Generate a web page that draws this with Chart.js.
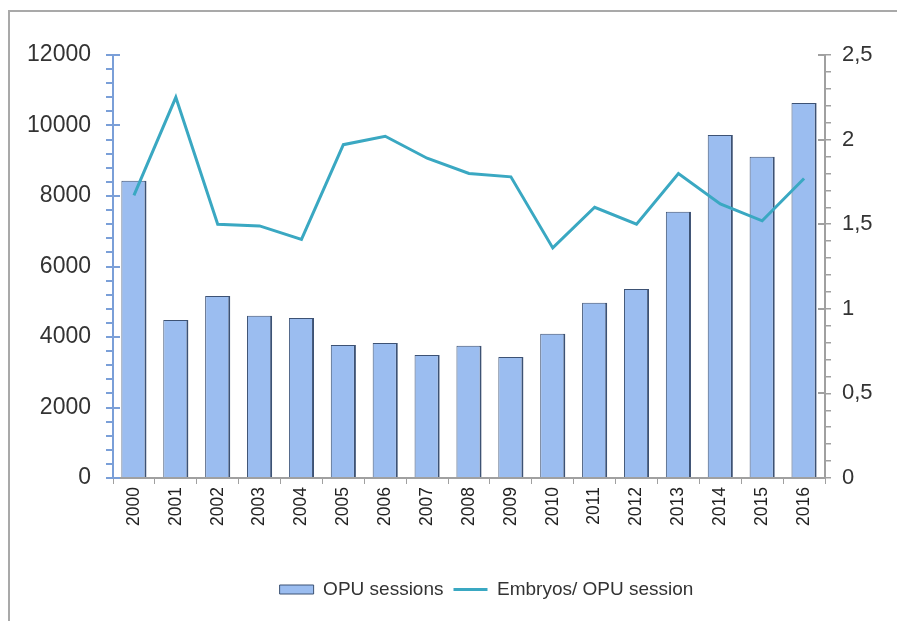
<!DOCTYPE html>
<html>
<head>
<meta charset="utf-8">
<script src="https://cdn.jsdelivr.net/npm/chart.js@4/dist/chart.umd.min.js"></script>
<style>
	html, body { margin:0; padding:0; background:#fff; }
	#cadre { position:absolute; left:8px; top:10px; width:889px; height:611px; border-top:2px solid #a9a9a9; border-left:2px solid #a9a9a9; box-sizing:border-box; }
	#zone { position:absolute; left:0; top:0; width:897px; height:621px; }
</style>
</head>
<body>
<div id="cadre"></div>
<div id="zone"><canvas id="chart-area" width="897" height="621"></canvas></div>
<script>
var annees = ["2000","2001","2002","2003","2004","2005","2006","2007","2008","2009","2010","2011","2012","2013","2014","2015","2016"];
var sessionsOPU = [8430, 4480, 5160, 4600, 4540, 3770, 3830, 3490, 3750, 3430, 4090, 4970, 5360, 7550, 9730, 9110, 10640];
var embryonsParSession = [1.67, 2.25, 1.50, 1.49, 1.41, 1.97, 2.02, 1.89, 1.80, 1.78, 1.36, 1.60, 1.50, 1.80, 1.62, 1.52, 1.77];
var ticksGauche = [0, 2000, 4000, 6000, 8000, 10000, 12000];
var ticksDroite = ["0", "0,5", "1", "1,5", "2", "2,5"];

var police = "'Liberation Sans', Arial, sans-serif";

// grandes graduations qui traversent l'axe (cote interieur)
// + legende decalee vers la droite comme sur l'original
var graduations = {
	id: 'graduations',
	beforeDraw: function(chart){
		if (chart.legend) chart.legend.left = 76;
	},
	afterDraw: function(chart){
		var ctx = chart.ctx;
		var y = chart.scales.y, y1 = chart.scales.y1;
		ctx.save();
		ctx.lineWidth = 2;
		ctx.strokeStyle = '#7a9fd8';
		ticksGauche.forEach(function(v){
			var p = Math.round(y.getPixelForValue(v));
			ctx.beginPath(); ctx.moveTo(y.right, p); ctx.lineTo(y.right + 7, p); ctx.stroke();
		});
		ctx.strokeStyle = '#a0a0a0';
		for (var i = 0; i < ticksDroite.length; i++){
			var q = Math.round(y1.getPixelForValue(i * 0.5));
			ctx.beginPath(); ctx.moveTo(y1.left, q); ctx.lineTo(y1.left - 7, q); ctx.stroke();
		}
		ctx.restore();
	}
};

var ctx = document.getElementById("chart-area").getContext("2d");
window.monGraph = new Chart(ctx, {
	type: 'bar',
	data: {
		labels: annees,
		datasets: [{
			label: 'OPU sessions',
			data: sessionsOPU,
			backgroundColor: '#9bbdf0',
			borderColor: '#3d5274',
			borderWidth: {top:1, right:2, bottom:0, left:1},
			barPercentage: 0.6,
			categoryPercentage: 1,
			pointStyle: 'rect',
			yAxisID: 'y',
			order: 2
		}, {
			type: 'line',
			label: 'Embryos/ OPU session',
			data: embryonsParSession,
			borderColor: '#3aa8c2',
			backgroundColor: '#3aa8c2',
			borderWidth: 3,
			pointRadius: 0,
			pointStyle: 'line',
			tension: 0,
			yAxisID: 'y1',
			order: 1
		}]
	},
	options: {
		responsive: false,
		animation: false,
		layout: { padding: { top: 55, left: 0, right: 0, bottom: 12 } },
		plugins: {
			tooltip: { enabled: false },
			legend: {
				position: 'bottom',
				labels: {
					usePointStyle: true,
					pointStyleWidth: 34,
					boxHeight: 9,
					padding: 10,
					color: '#333',
					font: { family: police, size: 19 },
					sort: function(a, b){ return a.datasetIndex - b.datasetIndex; }
				}
			}
		},
		scales: {
			x: {
				afterFit: function(s){ s.height = 92; },
				grid: { drawOnChartArea: false, tickLength: 6, color: '#a0a0a0', lineWidth: 1 },
				border: { color: '#a0a0a0', width: 2 },
				ticks: { minRotation: 90, maxRotation: 90, padding: 3, color: '#222', font: { family: police, size: 17.5 } }
			},
			y: {
				position: 'left',
				min: 0, max: 12000,
				afterFit: function(s){ s.width = 113; },
				grid: { drawOnChartArea: false, tickLength: 7, color: '#7a9fd8', lineWidth: 2 },
				border: { color: '#7a9fd8', width: 2 },
				ticks: {
					stepSize: 400, autoSkip: false, padding: 15, color: '#333',
					font: { family: police, size: 23 },
					callback: function(v){ return ticksGauche.indexOf(v) >= 0 ? String(v) : ''; }
				}
			},
			y1: {
				position: 'right',
				min: 0, max: 2.5,
				afterFit: function(s){ s.width = 72; },
				grid: { drawOnChartArea: false, tickLength: 6, color: '#a0a0a0', lineWidth: 1.5 },
				border: { color: '#a0a0a0', width: 2 },
				ticks: {
					stepSize: 0.1, autoSkip: false, padding: 11, color: '#333',
					font: { family: police, size: 22 },
					callback: function(v){
						var n = Math.round(v * 10);
						return n % 5 === 0 ? ticksDroite[n / 5] : '';
					}
				}
			}
		}
	},
	plugins: [graduations]
});
</script>
</body>
</html>
